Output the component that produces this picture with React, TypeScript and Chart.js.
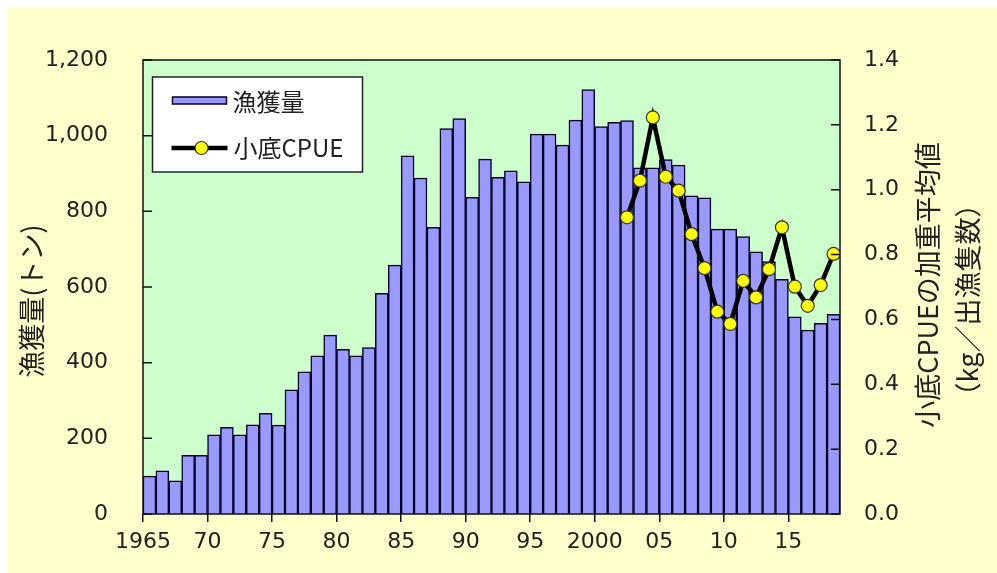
import React, { useEffect, useRef } from 'react';
import { Chart, registerables } from 'chart.js';

Chart.register(...registerables);

// ---- data ----
const years = [
  1965, 1966, 1967, 1968, 1969, 1970, 1971, 1972, 1973, 1974,
  1975, 1976, 1977, 1978, 1979, 1980, 1981, 1982, 1983, 1984,
  1985, 1986, 1987, 1988, 1989, 1990, 1991, 1992, 1993, 1994,
  1995, 1996, 1997, 1998, 1999, 2000, 2001, 2002, 2003, 2004,
  2005, 2006, 2007, 2008, 2009, 2010, 2011, 2012, 2013, 2014,
  2015, 2016, 2017, 2018,
];
const catchTons = [
  100, 114, 88, 155, 155, 209, 229, 209, 236, 266,
  235, 328, 376, 418, 473, 435, 418, 440, 583, 658,
  947, 888, 758, 1019, 1045, 837, 938, 890, 907, 878,
  1004, 1004, 975, 1041, 1122, 1024, 1035, 1040, 915, 915,
  937, 922, 841, 836, 753, 753, 733, 693, 667, 620,
  521, 486, 504, 528,
];
const cpueYears = [
  2002, 2003, 2004, 2005, 2006, 2007, 2008, 2009, 2010,
  2011, 2012, 2013, 2014, 2015, 2016, 2017, 2018,
];
const cpueValues = [
  0.915, 1.028, 1.223, 1.04, 0.997, 0.863, 0.758, 0.624, 0.586,
  0.719, 0.668, 0.755, 0.884, 0.701, 0.642, 0.706, 0.802,
];
const xTickYears = [1965, 1970, 1975, 1980, 1985, 1990, 1995, 2000, 2005, 2010, 2015];
const xTickLabels = ['1965', '70', '75', '80', '85', '90', '95', '2000', '05', '10', '15'];
const leftTicks = [0, 200, 400, 600, 800, 1000, 1200];
const rightTicks = [0, 0.2, 0.4, 0.6, 0.8, 1.0, 1.2, 1.4];

const seriesBarName = '漁獲量';
const seriesLineName = '小底CPUE';
const leftTitle = '漁獲量(トン)';
const rightTitle1 = '小底CPUEの加重平均値';
const rightTitle2 = '（kg／出漁隻数）';

// ---- styles ----
const BG = '#FFFFCC';
const PLOT_BG = '#CCFFCC';
const BAR_FILL = '#9999FF';
const BAR_BORDER = '#000022';
const TEXT = '#222222';
const TICK_FONT = { family: '"DejaVu Sans", sans-serif', size: 22 };
const CJK = '"Noto Sans CJK JP", sans-serif';

const decor = {
  id: 'decor',
  beforeDraw(chart: any) {
    const { ctx, chartArea: a, width, height } = chart;
    ctx.save();
    ctx.fillStyle = BG;
    ctx.fillRect(0, 0, width, height);
    ctx.fillStyle = PLOT_BG;
    ctx.fillRect(a.left, a.top, a.right - a.left, a.bottom - a.top);
    ctx.restore();
  },
  afterDatasetsDraw(chart: any) {
    const { ctx, chartArea: a, scales } = chart;
    ctx.save();
    // frame
    ctx.strokeStyle = '#111';
    ctx.lineWidth = 1.5;
    ctx.strokeRect(a.left, a.top, a.right - a.left, a.bottom - a.top);
    // inward ticks
    ctx.beginPath();
    scales.y.ticks.forEach((t: any) => {
      const py = scales.y.getPixelForValue(t.value);
      ctx.moveTo(a.left, py);
      ctx.lineTo(a.left + 9, py);
    });
    scales.y1.ticks.forEach((t: any) => {
      const py = scales.y1.getPixelForValue(t.value);
      ctx.moveTo(a.right, py);
      ctx.lineTo(a.right - 9, py);
    });
    ctx.stroke();

    // legend
    const bx = a.left + 9.5;
    const by = a.top + 17;
    const bw = 210;
    const bh = 95;
    ctx.fillStyle = '#FFFFFF';
    ctx.fillRect(bx, by, bw, bh);
    ctx.strokeStyle = '#222';
    ctx.lineWidth = 1.5;
    ctx.strokeRect(bx, by, bw, bh);

    ctx.fillStyle = BAR_FILL;
    ctx.fillRect(bx + 20, by + 20, 54, 7);
    ctx.strokeStyle = BAR_BORDER;
    ctx.lineWidth = 1.5;
    ctx.strokeRect(bx + 20, by + 20, 54, 7);

    ctx.strokeStyle = '#000';
    ctx.lineWidth = 4.5;
    ctx.beginPath();
    ctx.moveTo(bx + 19, by + 71);
    ctx.lineTo(bx + 75, by + 71);
    ctx.stroke();
    ctx.beginPath();
    ctx.arc(bx + 49, by + 71, 6.5, 0, Math.PI * 2);
    ctx.fillStyle = '#FFFF00';
    ctx.fill();
    ctx.lineWidth = 1.2;
    ctx.strokeStyle = '#333';
    ctx.stroke();

    ctx.fillStyle = TEXT;
    ctx.font = `24px ${CJK}`;
    ctx.textAlign = 'left';
    ctx.textBaseline = 'middle';
    ctx.fillText(seriesBarName, bx + 80, by + 25);
    ctx.fillText(seriesLineName, bx + 81, by + 71);
    ctx.restore();
  },
  afterDraw(chart: any) {
    const { ctx } = chart;
    const drawRot = (text: string, x: number, y: number) => {
      ctx.save();
      ctx.translate(x, y);
      ctx.rotate(-Math.PI / 2);
      ctx.fillStyle = TEXT;
      ctx.font = `27px ${CJK}`;
      ctx.textAlign = 'center';
      ctx.textBaseline = 'middle';
      ctx.fillText(text, 0, 0);
      ctx.restore();
    };
    drawRot(leftTitle, 24, 293);
    drawRot(rightTitle1, 920, 277);
    drawRot(rightTitle2, 960, 292);
  },
};

export default function App() {
  const ref = useRef<HTMLCanvasElement | null>(null);

  useEffect(() => {
    if (!ref.current) return;
    const chart = new Chart(ref.current, {
      type: 'bar',
      data: {
        datasets: [
          {
            type: 'line',
            label: seriesLineName,
            data: cpueYears.map((yr, i) => ({ x: yr + 0.5, y: cpueValues[i] })),
            yAxisID: 'y1',
            borderColor: '#000',
            borderWidth: 4.5,
            pointRadius: 6.5,
            pointBackgroundColor: '#FFFF00',
            pointBorderColor: '#333',
            pointBorderWidth: 1.2,
            tension: 0,
            order: 0,
          } as any,
          {
            type: 'bar',
            label: seriesBarName,
            data: years.map((yr, i) => ({ x: yr + 0.5, y: catchTons[i] })),
            yAxisID: 'y',
            backgroundColor: BAR_FILL,
            borderColor: BAR_BORDER,
            borderWidth: 1.5,
            barPercentage: 1,
            categoryPercentage: 1,
            order: 1,
          } as any,
        ],
      },
      options: {
        animation: false,
        responsive: false,
        devicePixelRatio: 1,
        layout: { padding: { top: 52, left: 0, right: 0, bottom: 0 } },
        plugins: { legend: { display: false }, tooltip: { enabled: false } },
        scales: {
          x: {
            type: 'linear',
            min: 1965,
            max: 2019,
            offset: false,
            grid: {
              display: true,
              drawOnChartArea: false,
              drawTicks: true,
              tickLength: 8,
              color: '#111',
              lineWidth: 1.5,
              offset: false,
            },
            border: { display: false },
            ticks: {
              font: TICK_FONT,
              color: TEXT,
              padding: 7,
              autoSkip: false,
              maxRotation: 0,
              callback: (v: any) => {
                const i = xTickYears.indexOf(Number(v));
                return i >= 0 ? xTickLabels[i] : '';
              },
            },
            afterBuildTicks: (s: any) => {
              s.ticks = xTickYears.map((v) => ({ value: v }));
            },
            afterFit: (s: any) => {
              s.height = 59;
            },
          },
          y: {
            type: 'linear',
            position: 'left',
            min: 0,
            max: 1200,
            grid: { display: false, drawTicks: false },
            border: { display: false },
            ticks: {
              font: TICK_FONT,
              color: TEXT,
              padding: 35,
              callback: (v: any) => Number(v).toLocaleString('en-US'),
            },
            afterBuildTicks: (s: any) => {
              s.ticks = leftTicks.map((v) => ({ value: v }));
            },
            afterFit: (s: any) => {
              s.width = 135;
            },
          },
          y1: {
            type: 'linear',
            position: 'right',
            min: 0,
            max: 1.4,
            grid: { display: false, drawTicks: false },
            border: { display: false },
            ticks: {
              font: TICK_FONT,
              color: TEXT,
              padding: 24,
              callback: (v: any) => Number(v).toFixed(1),
            },
            afterBuildTicks: (s: any) => {
              s.ticks = rightTicks.map((v) => ({ value: v }));
            },
            afterFit: (s: any) => {
              s.width = 157;
            },
          },
        },
      } as any,
      plugins: [decor],
    });
    return () => chart.destroy();
  }, []);

  return (
    <div style={{ position: 'fixed', left: 8, top: 8, width: 989, height: 565 }}>
      <canvas ref={ref} width={989} height={565} style={{ display: 'block', width: 989, height: 565 }} />
    </div>
  );
}
